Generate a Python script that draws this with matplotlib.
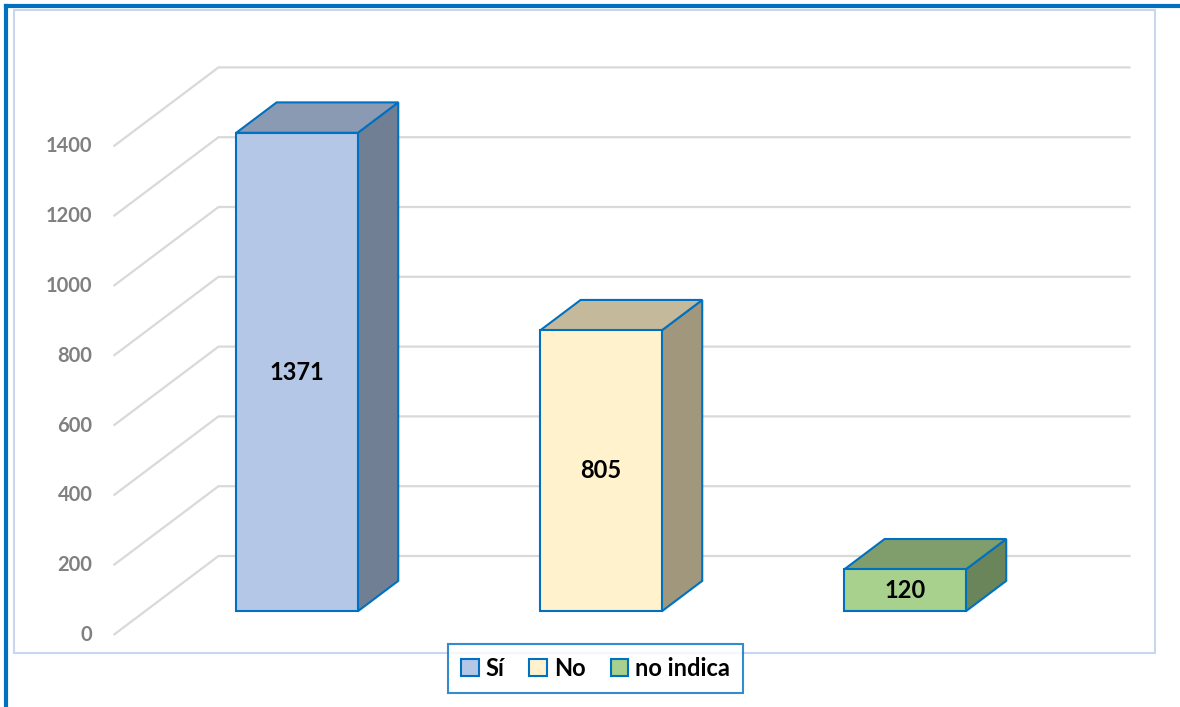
import matplotlib
matplotlib.use("Agg")
import matplotlib.pyplot as plt
from matplotlib.patches import Polygon, Patch, Rectangle
from matplotlib.lines import Line2D

categories = ["Sí", "No", "no indica"]
values = [1371, 805, 120]
ticks = [0, 200, 400, 600, 800, 1000, 1200, 1400]

front_colors = ["#B4C7E7", "#FFF2CC", "#A9D18E"]
top_colors = ["#8A9AB2", "#C4B99B", "#7F9E6B"]
side_colors = ["#717F94", "#A0977D", "#6A855A"]
edge = "#0070C0"

plt.rcParams["font.family"] = ["Lato", "DejaVu Sans"]

W, H = 1180, 707
fig = plt.figure(figsize=(W / 100, H / 100), dpi=100)
ax = fig.add_axes([0, 0, 1, 1])
ax.set_axis_off()

# pixel mapping: x px = X0 + SX*x ; y px(from top) = Y0 - SY*v
X0, SX = 265.5, 304.0
Y0, SY = 635.0, 0.349
ax.set_xlim(-X0 / SX, (W - X0) / SX)
ax.set_ylim((Y0 - H) / SY, Y0 / SY)

DX = 105.0 / SX      # depth offset in x data units (full depth)
DY = 79.0 / SY       # depth offset in value units (full depth)


def proj(x, v, d):
    return (x + d * DX, v + d * DY)


# background frames (figure fractions)
fig.patches.append(Rectangle((14 / W, 1 - 653 / H), (1155 - 14) / W, (653 - 10) / H,
                             transform=fig.transFigure, fill=False,
                             edgecolor="#C9D6EE", lw=1.5, zorder=0))
fig.lines.append(Line2D([6 / W, 6 / W], [0, 1 - 6 / H], transform=fig.transFigure,
                        color="#0070C0", lw=3))
fig.lines.append(Line2D([6 / W, 1], [1 - 6 / H, 1 - 6 / H], transform=fig.transFigure,
                        color="#0070C0", lw=3))

xl, xr = -0.5, 2.5
for t in ticks:
    p0 = proj(xl, t, 0)
    p1 = proj(xl, t, 1)
    p2 = proj(xr, t, 1)
    ax.plot([p0[0], p1[0], p2[0]], [p0[1], p1[1], p2[1]], color="#D9D9D9",
            lw=1.6, zorder=1, solid_capstyle="butt")
    ax.text(xl - 21 / SX, t, str(t), ha="right", va="center", fontsize=14.5,
            fontweight="bold", color="#808080")

hw = 0.2
d0, d1 = 0.30, 0.685
for i, (v, fc, tc, sc) in enumerate(zip(values, front_colors, top_colors, side_colors)):
    x0, x1 = i - hw, i + hw
    front = [proj(x0, 0, d0), proj(x1, 0, d0), proj(x1, v, d0), proj(x0, v, d0)]
    top = [proj(x0, v, d0), proj(x1, v, d0), proj(x1, v, d1), proj(x0, v, d1)]
    side = [proj(x1, 0, d0), proj(x1, 0, d1), proj(x1, v, d1), proj(x1, v, d0)]
    for poly, c in ((side, sc), (top, tc), (front, fc)):
        ax.add_patch(Polygon(poly, closed=True, facecolor=c, edgecolor=edge,
                             lw=1.5, joinstyle="miter", zorder=3))
    cx, cy = proj(i, v / 2, d0)
    ax.text(cx, cy, str(v), ha="center", va="center", fontsize=17,
            fontweight="bold", color="black", zorder=4)

handles = [Patch(facecolor=fc, edgecolor=edge, lw=1.5) for fc in front_colors]
leg = fig.legend(handles, categories, loc="center",
                 bbox_to_anchor=(595.5 / W, 1 - 668.5 / H), ncol=3,
                 frameon=True, fancybox=False, edgecolor=edge,
                 handlelength=0.75, handleheight=0.75, handletextpad=0.3,
                 columnspacing=1.05, borderpad=0.55,
                 prop={"family": "Lato", "weight": "bold", "size": 17})
leg.get_frame().set_linewidth(1.5)

fig.savefig("out.png", dpi=100)
